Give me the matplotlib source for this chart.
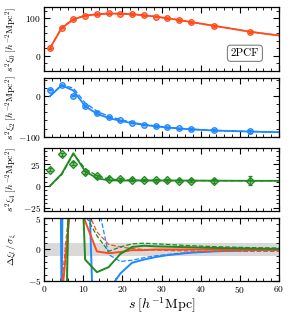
import numpy as np
import matplotlib
matplotlib.use('Agg')
from matplotlib import pyplot as plt
from matplotlib.ticker import MultipleLocator
from matplotlib.colors import to_rgba

plt.rcParams['font.family'] = 'serif'
plt.rcParams['font.serif'] = ['cmr10']
plt.rcParams['mathtext.fontset'] = 'cm'
plt.rcParams['axes.formatter.use_mathtext'] = True
plt.rcParams['axes.unicode_minus'] = True

# separation bins
s = [1.5, 4.5, 7.5, 10.5, 13.5, 16.5, 19.5, 22.5, 25.5, 28.5, 31.5, 34.5, 37.5, 43.5, 52.5]
# model / residual bins (last one lies beyond the plotted range)
s_mod = s + [64.5]

# measured multipoles (s^2 xi_l) and errors
xi0 = [20.4, 75, 97, 107, 110.5, 113, 112, 111, 108, 104.5, 100, 95.5, 90, 80, 64.5]
err0 = [1.5, 1.5, 1.5, 1.5, 1.5, 1.5, 1.5, 1.5, 1.5, 1.5, 1.5, 1.5, 1.5, 2, 2.5]
xi2 = [16.4, 27, 1.6, -23.8, -41, -52.4, -59.8, -65.5, -70.3, -73.7, -77, -79.5, -81, -84.4, -86.9]
err2 = [2, 2, 2, 2, 2, 2, 2, 2, 2, 2, 2, 2, 2, 2.5, 4]
xi4 = [18.8, 36.8, 26, 15.8, 11, 8.5, 7.7, 7.3, 7.0, 6.6, 6.6, 6.3, 6.3, 6.0, 6.3]
err4 = [1.5, 1.5, 1.5, 1.5, 1.5, 1.5, 1.5, 1.5, 1.5, 1.5, 1.5, 1.5, 1.5, 2, 5]

# model curves: solid and dashed
mod0_a = [20, 74, 97, 107, 110.5, 112.5, 112, 111, 108, 104.5, 100, 95.5, 90, 80, 64.5, 48]
mod0_b = [20, 75, 98, 107.5, 111, 113, 112.5, 111, 108, 104.5, 100, 95.5, 90, 80, 64.5, 48]
mod2_a = [0, 27, 14, -24.6, -43.5, -54, -61, -66.5, -71, -74.5, -77.5, -80, -82, -85, -87.5, -90]
mod2_b = [0, 28, 20, -16.4, -37, -50, -58, -64.5, -70, -73.5, -77, -79.5, -81.5, -84.8, -87.3, -90]
mod4_a = [0, 14, 38, 17, 9, 6.5, 6.3, 6.3, 6.3, 6.3, 6.3, 6.2, 6.2, 6.1, 6.0, 6.0]
mod4_b = [0, 13, 37, 20, 12, 8, 7, 6.6, 6.5, 6.5, 6.4, 6.3, 6.3, 6.2, 6.1, 6.0]

# residuals Delta xi_l / sigma
res0_a = [-60, -8, 12, 4.5, -0.3, -0.6, -0.4, -0.1, -0.1, 0.0, 0.0, 0.0, 0.0, 0.0, 0.0, 0.0]
res0_b = [-60, -6, 14, 7, 2.8, 0.8, 0.4, 0.15, 0.0, -0.1, -0.15, -0.2, -0.25, -0.3, -0.3, -0.3]
res2_a = [200, -8, 200, 30, -30, -6.5, -3.8, -2.1, -1.6, -1.2, -0.9, -0.7, -0.5, -0.3, -0.1, 0.0]
res2_b = [200, -6, 200, 40, 8, -0.8, -1.9, -1.7, -1.3, -1.0, -0.8, -0.6, -0.5, -0.3, -0.15, -0.05]
res4_a = [-60, -50, 48, -1.6, -3.6, -2.8, -0.7, 0.4, 0.6, 0.5, 0.45, 0.4, 0.35, 0.25, 0.15, 0.05]
res4_b = [-60, -45, 45, 5.5, 2.2, -0.3, 0.4, 0.9, 1.0, 0.9, 0.8, 0.7, 0.6, 0.45, 0.3, 0.2]

c0 = '#ff4a1c'
c2 = '#1e88ff'
c4 = '#1f8a1f'

fig = plt.figure(figsize=(2.91, 3.17), dpi=100)
left, width = 0.1512, 0.8076
ax1 = fig.add_axes([left, 0.776, width, 0.2019])
ax2 = fig.add_axes([left, 0.5678, width, 0.186])
ax3 = fig.add_axes([left, 0.3344, width, 0.1987])
ax4 = fig.add_axes([left, 0.1136, width, 0.1987])


def draw_pole(ax, xi, err, ma, mb, color, marker):
    ax.plot(s_mod, ma, '-', color=color, lw=1.3)
    ax.plot(s_mod, mb, '--', color=color, lw=1.0)
    ax.errorbar(s, xi, yerr=err, fmt=marker, color=color, ms=4 if marker == 'o' else 3.8,
                mfc=to_rgba(color, 0.45), mec=color, mew=0.9, elinewidth=0.9, capsize=1.5)


draw_pole(ax1, xi0, err0, mod0_a, mod0_b, c0, 'o')
draw_pole(ax2, xi2, err2, mod2_a, mod2_b, c2, 'o')
draw_pole(ax3, xi4, err4, mod4_a, mod4_b, c4, 'D')

ax4.axhspan(-1, 1, color='#d9d9d9', lw=0)
for ra, rb, color in [(res2_a, res2_b, c2), (res0_a, res0_b, c0), (res4_a, res4_b, c4)]:
    ax4.plot(s_mod, ra, '-', color=color, lw=1.4)
    ax4.plot(s_mod, rb, '--', color=color, lw=0.9)

ax1.set_ylim(-40, 130)
ax1.yaxis.set_major_locator(MultipleLocator(100))
ax1.yaxis.set_minor_locator(MultipleLocator(20))
ax2.set_ylim(-101, 45)
ax2.yaxis.set_major_locator(MultipleLocator(100))
ax2.yaxis.set_minor_locator(MultipleLocator(20))
ax3.set_ylim(-29, 44)
ax3.yaxis.set_major_locator(MultipleLocator(25))
ax3.yaxis.set_minor_locator(MultipleLocator(5))
ax4.set_ylim(-5, 5)
ax4.yaxis.set_major_locator(MultipleLocator(5))
ax4.yaxis.set_minor_locator(MultipleLocator(1))

for ax in [ax1, ax2, ax3, ax4]:
    ax.set_xlim(0, 60)
    ax.xaxis.set_major_locator(MultipleLocator(10))
    ax.xaxis.set_minor_locator(MultipleLocator(2))
    ax.tick_params(which='both', direction='in', top=True, right=True, labelsize=6.8, pad=2)
    ax.tick_params(which='major', length=4, width=0.8)
    ax.tick_params(which='minor', length=2, width=0.6)
    for sp in ax.spines.values():
        sp.set_linewidth(0.9)
    if ax is not ax4:
        ax.tick_params(labelbottom=False)

ax1.set_ylabel(r'$s^2\xi_0\;[h^{-2}{\rm Mpc}^2]$', fontsize=7)
ax2.set_ylabel(r'$s^2\xi_2\;[h^{-2}{\rm Mpc}^2]$', fontsize=7)
ax3.set_ylabel(r'$s^2\xi_4\;[h^{-2}{\rm Mpc}^2]$', fontsize=7)
ax4.set_ylabel(r'$\Delta\xi_l\,/\,\sigma_{\xi}$', fontsize=7)
ax4.set_xlabel(r'$s\;[h^{-1}{\rm Mpc}]$', fontsize=10, labelpad=1)
for ax in [ax1, ax2, ax3, ax4]:
    ax.yaxis.set_label_coords(-0.105, 0.5)

ax1.text(0.855, 0.277, '2PCF', transform=ax1.transAxes, fontsize=8, ha='center', va='center',
         bbox=dict(boxstyle='round,pad=0.3', fc='white', ec='gray', lw=0.8))

fig.savefig('out.png', dpi=100)
